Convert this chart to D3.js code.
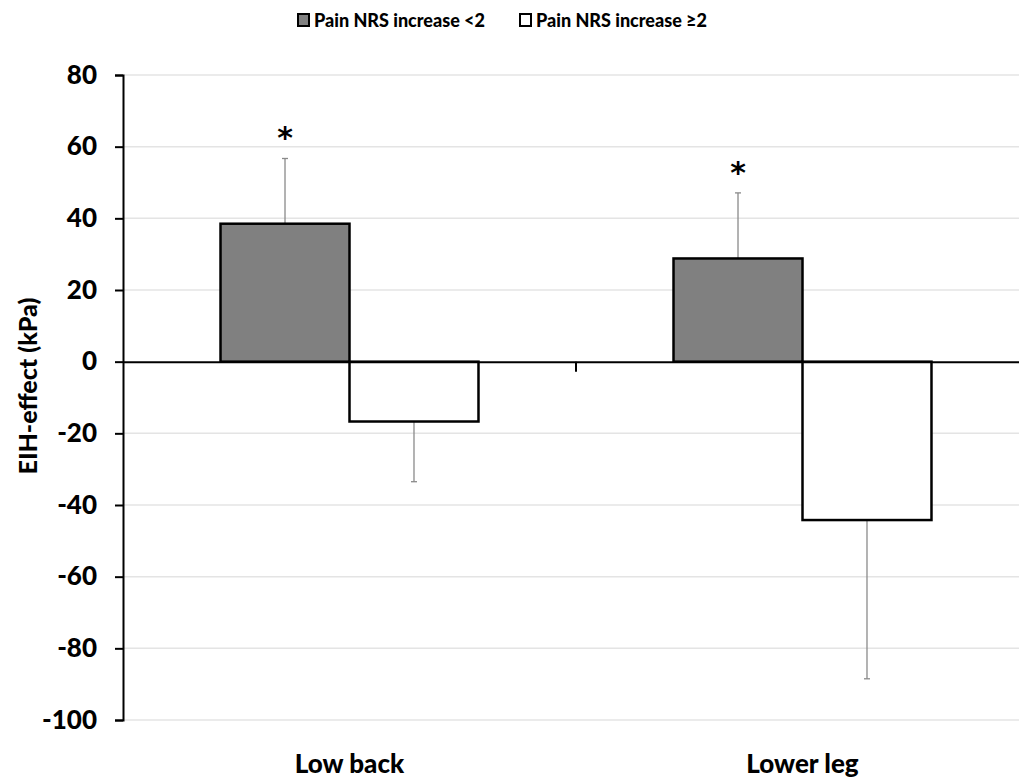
<!DOCTYPE html>
<html lang="en">
<head>
  <meta charset="UTF-8">
  <title>EIH-effect</title>
  <style>
    body {
      margin: 0;
      background: #fff;
    }
    text {
      font-family: Lato, "Open Sans", sans-serif;
      font-weight: 900;
      fill: #000;
    }
    .grid line {
      stroke: #e4e4e4;
      stroke-width: 1.5;
    }
    .bar {
      stroke: #000;
      stroke-width: 2.5;
    }
    .err {
      stroke: #8a8a8a;
      stroke-width: 1.3;
    }
  </style>
</head>
<body>
  <script src="https://d3js.org/d3.v7.min.js"></script>
  <script>
    var categories = ['Low back', 'Lower leg'];
    var series = ['Pain NRS increase <2', 'Pain NRS increase \u22652'];
    var seriesColors = ['#808080', '#ffffff'];
    // mean EIH-effect per series, one value per category
    var lowNRS = [38.5, 28.8];
    var highNRS = [-16.7, -44.2];
    // error bar ends (mean + SD for positive bars, mean - SD for negative)
    var lowNRSerr = [56.7, 47.1];
    var highNRSerr = [-33.5, -88.5];
    var significant = [true, true];
    var yTicks = [-100, -80, -60, -40, -20, 0, 20, 40, 60, 80];

    var width = 1019, height = 783;
    var svg = d3.select('body').append('svg')
      .attr('width', width)
      .attr('height', height);

    var y = d3.scaleLinear().domain([-100, 80]).range([720, 75]);
    var x = d3.scaleBand().domain(categories).range([123, 1029]).padding(0);
    var xs = d3.scaleBand().domain(series).range([0, x.bandwidth()])
      .paddingInner(0).paddingOuter(0.756);

    var rows = [];
    categories.forEach(function(c, i) {
      rows.push({cat: c, s: 0, v: lowNRS[i], e: lowNRSerr[i], star: significant[i]});
      rows.push({cat: c, s: 1, v: highNRS[i], e: highNRSerr[i], star: false});
    });

    // gridlines
    svg.append('g')
      .attr('class', 'grid')
      .selectAll('line')
      .data(yTicks.filter(function(d) { return d !== 0; }))
      .enter().append('line')
      .attr('x1', 123).attr('x2', width)
      .attr('y1', function(d) { return y(d); })
      .attr('y2', function(d) { return y(d); });

    // error bars (drawn first so the bar edge covers the stem)
    var err = svg.append('g').selectAll('g')
      .data(rows).enter().append('g')
      .attr('class', 'err');
    function cx(d) { return x(d.cat) + xs(series[d.s]) + xs.bandwidth() / 2; }
    err.append('line')
      .attr('x1', cx).attr('x2', cx)
      .attr('y1', function(d) { return y(d.v); })
      .attr('y2', function(d) { return y(d.e); });
    err.append('line')
      .attr('x1', function(d) { return cx(d) - 3; })
      .attr('x2', function(d) { return cx(d) + 3; })
      .attr('y1', function(d) { return y(d.e); })
      .attr('y2', function(d) { return y(d.e); });

    // bars
    svg.append('g').selectAll('rect')
      .data(rows).enter().append('rect')
      .attr('class', 'bar')
      .attr('x', function(d) { return x(d.cat) + xs(series[d.s]); })
      .attr('width', xs.bandwidth())
      .attr('y', function(d) { return y(Math.max(0, d.v)); })
      .attr('height', function(d) { return Math.abs(y(d.v) - y(0)); })
      .attr('fill', function(d) { return seriesColors[d.s]; });

    // significance markers
    svg.append('g').selectAll('text')
      .data(rows.filter(function(d) { return d.star; }))
      .enter().append('text')
      .attr('x', cx)
      .attr('y', function(d) { return y(d.e) - 10; })
      .attr('text-anchor', 'middle')
      .style('font-family', '"DejaVu Sans", sans-serif')
      .style('font-weight', 'bold')
      .style('font-size', '30px')
      .text('*');

    // zero line and category ticks
    var xAxis = d3.axisBottom(x).tickSize(0).tickFormat('');
    svg.append('g')
      .attr('transform', 'translate(0,' + y(0) + ')')
      .call(xAxis)
      .call(function(g) {
        g.select('.domain').attr('stroke', '#000').attr('stroke-width', 2);
      });
    svg.append('g').selectAll('line')
      .data(categories.slice(1))
      .enter().append('line')
      .attr('x1', function(d) { return x(d); })
      .attr('x2', function(d) { return x(d); })
      .attr('y1', y(0)).attr('y2', y(0) + 10)
      .attr('stroke', '#000').attr('stroke-width', 2);

    // category labels
    svg.append('g').selectAll('text')
      .data(categories).enter().append('text')
      .attr('x', function(d) { return x(d) + x.bandwidth() / 2; })
      .attr('y', 773)
      .attr('text-anchor', 'middle')
      .style('font-size', '26px')
      .text(function(d) { return d; });

    // y axis
    var yAxis = d3.axisLeft(y).tickValues(yTicks).tickSize(8).tickPadding(18)
      .tickFormat(function(d) { return String(d); });
    svg.append('g')
      .attr('transform', 'translate(123,0)')
      .call(yAxis)
      .call(function(g) {
        g.select('.domain').attr('stroke', '#000').attr('stroke-width', 2);
        g.selectAll('.tick line').attr('stroke', '#000').attr('stroke-width', 2);
        g.selectAll('.tick text')
          .style('font-family', 'Lato, sans-serif')
          .style('font-size', '26px')
          .style('font-weight', '900')
          .attr('fill', '#000');
      });

    svg.append('text')
      .attr('transform', 'translate(37,386) rotate(-90)')
      .attr('text-anchor', 'middle')
      .style('font-size', '25px')
      .text('EIH-effect (kPa)');

    // legend
    var legX = [298, 520];
    var leg = svg.append('g').selectAll('g')
      .data(series).enter().append('g')
      .attr('transform', function(d, i) { return 'translate(' + legX[i] + ',14)'; });
    leg.append('rect')
      .attr('width', 11).attr('height', 12)
      .attr('fill', function(d, i) { return seriesColors[i]; })
      .attr('stroke', '#000').attr('stroke-width', 2);
    leg.append('text')
      .attr('x', 16).attr('y', 13)
      .style('font-size', '18px')
      .text(function(d) { return d; });
  </script>
</body>
</html>
